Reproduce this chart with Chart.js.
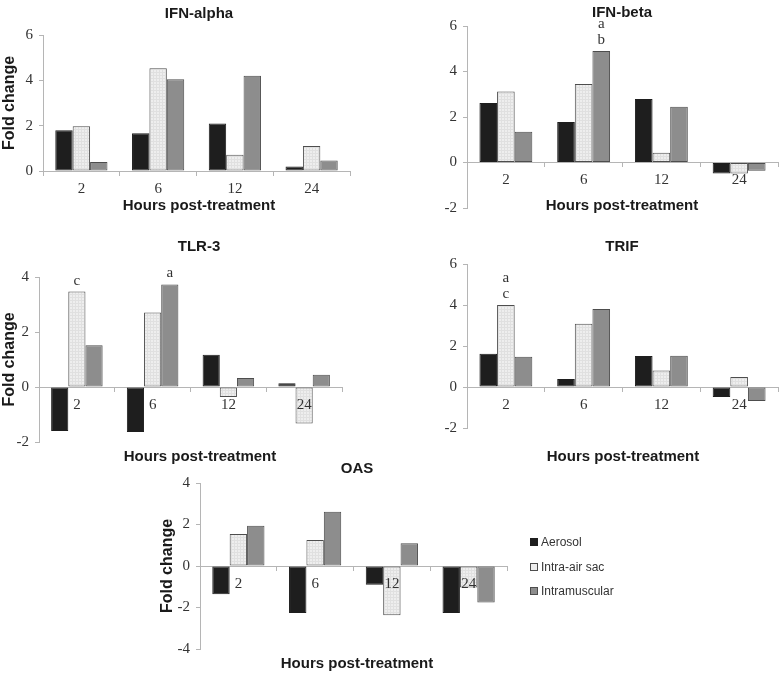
<!DOCTYPE html>
<html><head><meta charset="utf-8">
<script src="https://cdn.jsdelivr.net/npm/chart.js@4.4.1/dist/chart.umd.min.js"></script>
<style>
html,body{margin:0;padding:0;background:#fff;}
#wrap{position:relative;width:783px;height:674px;overflow:hidden;background:#fff;}
#wrap canvas{position:absolute;left:0;top:0;}
.t{position:absolute;transform:translate(-50%,-50%);font:bold 15px "Liberation Sans",Arial,sans-serif;color:#1a1a1a;white-space:nowrap;}
.lg{position:absolute;font:12px "Liberation Sans",Arial,sans-serif;color:#333;white-space:nowrap;transform:translateY(-50%);}
.sw{position:absolute;width:6px;height:6px;transform:translateY(-50%);}
</style></head>
<body><div id="wrap"></div>
<script>
// ---- data ----
const categories = ['2', '6', '12', '24'];
const seriesNames = ['Aerosol', 'Intra-air sac', 'Intramuscular'];

const ifnAlphaAerosol = [1.8, 1.67, 2.1, 0.2];
const ifnAlphaIntraAirSac = [1.97, 4.53, 0.72, 1.1];
const ifnAlphaIntramuscular = [0.4, 4.05, 4.2, 0.46];

const ifnBetaAerosol = [2.61, 1.78, 2.79, -0.48];
const ifnBetaIntraAirSac = [3.12, 3.45, 0.43, -0.48];
const ifnBetaIntramuscular = [1.35, 4.9, 2.45, -0.36];

const tlr3Aerosol = [-1.6, -1.64, 1.17, 0.14];
const tlr3IntraAirSac = [3.47, 2.71, -0.36, -1.33];
const tlr3Intramuscular = [1.52, 3.73, 0.33, 0.45];

const trifAerosol = [1.62, 0.39, 1.51, -0.49];
const trifIntraAirSac = [4.0, 3.08, 0.81, 0.49];
const trifIntramuscular = [1.48, 3.81, 1.52, -0.68];

const oasAerosol = [-1.36, -2.26, -0.9, -2.26];
const oasIntraAirSac = [1.54, 1.25, -2.37, -1.04];
const oasIntramuscular = [1.94, 2.61, 1.1, -1.76];

// significance letters: [series index, category index, letters bottom-to-top]
const ifnBetaNotes = [[2, 1, ['b', 'a']]];
const tlr3Notes = [[1, 0, ['c']], [2, 1, ['a']]];
const trifNotes = [[1, 0, ['c', 'a']]];

const yTicksAlpha = [0, 6];
const yTicksBeta = [-2, 6];
const yTicksTlr3 = [-2, 4];
const yTicksTrif = [-2, 6];
const yTicksOas = [-4, 4];

// ---- layout ----
const W = 783, H = 674;
const wrap = document.getElementById('wrap');

function makePattern() {
  const c = document.createElement('canvas');
  c.width = 3; c.height = 3;
  const x = c.getContext('2d');
  x.fillStyle = '#eeeeee'; x.fillRect(0, 0, 3, 3);
  x.fillStyle = '#e0e0e0'; x.fillRect(0, 0, 3, 1); x.fillRect(0, 0, 1, 3);
  return x.createPattern(c, 'repeat');
}
const pat = makePattern();

const notesPlugin = {
  id: 'notes',
  afterDatasetsDraw(chart, args, opts) {
    const items = opts.items || [];
    const ctx = chart.ctx;
    ctx.save();
    ctx.font = '15px "Liberation Serif", "Times New Roman", serif';
    ctx.fillStyle = '#333';
    ctx.textAlign = 'center';
    ctx.textBaseline = 'middle';
    items.forEach(([s, c, letters]) => {
      const el = chart.getDatasetMeta(s).data[c];
      letters.forEach((l, k) => ctx.fillText(l, el.x, el.y - 11 - k * 16));
    });
    ctx.restore();
  }
};

const panels = [
  {title: 'IFN-alpha', a: ifnAlphaAerosol, b: ifnAlphaIntraAirSac, c: ifnAlphaIntramuscular, yr: yTicksAlpha,
   area: {l: 43, t: 35, r: 350, b: 171}, yTitle: true, yTitleX: 9.5, tpos: [199, 12], xpos: [199, 204], notes: []},
  {title: 'IFN-beta', a: ifnBetaAerosol, b: ifnBetaIntraAirSac, c: ifnBetaIntramuscular, yr: yTicksBeta,
   area: {l: 467, t: 26, r: 778, b: 208}, yTitle: false, tpos: [622, 11], xpos: [622, 204], notes: ifnBetaNotes},
  {title: 'TLR-3', a: tlr3Aerosol, b: tlr3IntraAirSac, c: tlr3Intramuscular, yr: yTicksTlr3,
   area: {l: 39, t: 277, r: 342, b: 442}, yTitle: true, yTitleX: 10, tpos: [199, 245], xpos: [200, 455], notes: tlr3Notes},
  {title: 'TRIF', a: trifAerosol, b: trifIntraAirSac, c: trifIntramuscular, yr: yTicksTrif,
   area: {l: 467, t: 264, r: 778, b: 428}, yTitle: false, tpos: [622, 245], xpos: [623, 455], notes: trifNotes},
  {title: 'OAS', a: oasAerosol, b: oasIntraAirSac, c: oasIntramuscular, yr: yTicksOas,
   area: {l: 200, t: 483, r: 507, b: 649}, yTitle: true, yTitleX: 168, tpos: [357, 467], xpos: [357, 662], notes: []}
];

const tickFont = {family: '"Liberation Serif", "Times New Roman", serif', size: 15};
const axisColor = '#b5b5b5';

panels.forEach(P => {
  const cv = document.createElement('canvas');
  cv.width = W; cv.height = H;
  wrap.appendChild(cv);
  const padL = P.yTitle ? P.yTitleX - 9.6 : P.area.l - 47;
  const yW = P.area.l - padL;
  new Chart(cv, {
    type: 'bar',
    data: {
      labels: categories,
      datasets: [
        {label: seriesNames[0], data: P.a, backgroundColor: '#1e1e1e', borderColor: '#1e1e1e', borderWidth: 1},
        {label: seriesNames[1], data: P.b, backgroundColor: pat, borderColor: '#4d4d4d', borderWidth: 1},
        {label: seriesNames[2], data: P.c, backgroundColor: '#8d8d8d', borderColor: '#4d4d4d', borderWidth: 1}
      ]
    },
    options: {
      responsive: false, animation: false, devicePixelRatio: 1,
      layout: {padding: {left: padL, top: P.area.t, right: W - P.area.r, bottom: H - P.area.b}},
      datasets: {bar: {categoryPercentage: 0.68, barPercentage: 1, borderSkipped: false}},
      plugins: {legend: {display: false}, tooltip: {enabled: false}, title: {display: false}, notes: {items: P.notes}},
      scales: {
        x: {
          position: {y: 0}, offset: true,
          grid: {offset: true, drawOnChartArea: false, drawTicks: true, tickLength: 4, color: axisColor},
          border: {color: axisColor},
          ticks: {font: tickFont, color: '#333', padding: 5, maxRotation: 0, autoSkip: false, z: 1}
        },
        y: {
          min: P.yr[0], max: P.yr[1],
          afterFit(s) { s.width = yW; },
          ticks: {stepSize: 2, font: tickFont, color: '#333', padding: 6},
          grid: {drawOnChartArea: false, tickLength: 4, color: axisColor},
          border: {color: axisColor},
          title: {display: P.yTitle, text: 'Fold change', color: '#1a1a1a', padding: 0,
                  font: {family: '"Liberation Sans", Arial, sans-serif', size: 16, weight: 'bold'}}
        }
      }
    },
    plugins: [notesPlugin]
  });
  const t = document.createElement('div');
  t.className = 't'; t.textContent = P.title;
  t.style.left = P.tpos[0] + 'px'; t.style.top = P.tpos[1] + 'px';
  wrap.appendChild(t);
  const xt = document.createElement('div');
  xt.className = 't'; xt.textContent = 'Hours post-treatment';
  xt.style.left = P.xpos[0] + 'px'; xt.style.top = P.xpos[1] + 'px';
  wrap.appendChild(xt);
});

// legend
const legFills = ['#1e1e1e', '#eeeeee', '#8d8d8d'];
const legBorders = ['#1e1e1e', '#4d4d4d', '#4d4d4d'];
seriesNames.forEach((n, i) => {
  const y = 542 + i * 24.5;
  const sw = document.createElement('div');
  sw.className = 'sw';
  sw.style.left = '530px'; sw.style.top = y + 'px';
  sw.style.background = legFills[i]; sw.style.border = '1px solid ' + legBorders[i];
  wrap.appendChild(sw);
  const tx = document.createElement('div');
  tx.className = 'lg'; tx.textContent = n;
  tx.style.left = '541px'; tx.style.top = y + 'px';
  wrap.appendChild(tx);
});
</script>
</body></html>
